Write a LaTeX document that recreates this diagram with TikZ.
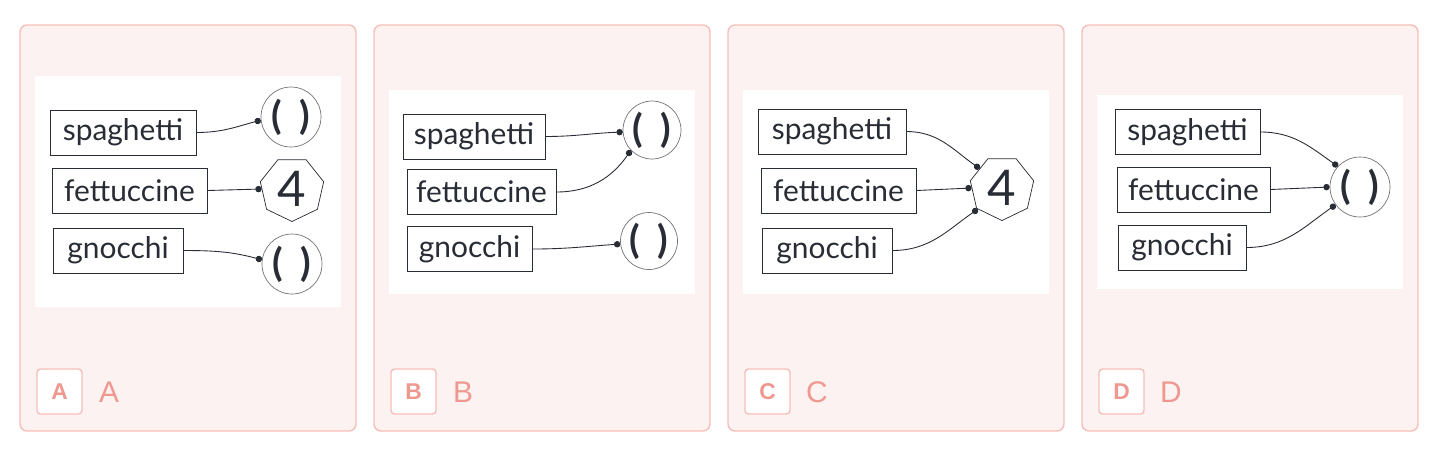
\documentclass[tikz,border=0pt]{standalone}
\usepackage{fontspec}
\setmainfont{Lato}
\newfontfamily\tagfont{Liberation Sans}
\usetikzlibrary{shapes.geometric,arrows.meta,positioning,calc}
\definecolor{panelfill}{RGB}{252,242,241}
\definecolor{panelline}{RGB}{246,190,185}
\definecolor{tagred}{RGB}{238,152,143}
\definecolor{ink}{RGB}{40,44,52}

\tikzset{
  panel/.style={draw=panelline, fill=panelfill, line width=0.8pt, rounded corners=4pt},
  sheet/.style={fill=white, draw=none},
  tagbox/.style={draw=panelline, fill=white, line width=0.8pt, rounded corners=2pt, minimum size=0.9cm, inner sep=0pt, text=tagred, font=\tagfont\bfseries\fontsize{13}{13}\selectfont},
  tagtext/.style={text=tagred, inner sep=0pt, font=\tagfont\fontsize{17}{17}\selectfont},
  pasta/.style={draw=ink, line width=0.5pt, minimum height=0.9cm, inner sep=0pt, text=ink, font=\fontsize{17}{17}\selectfont},
  bubble/.style={circle, draw=black!55, line width=0.4pt, inner sep=0pt, minimum size=1.2cm, text=ink, font=\bfseries\fontsize{22}{22}\selectfont},
  hepta/.style={regular polygon, regular polygon sides=7, shape border rotate=180, draw=ink, line width=0.4pt, inner sep=0pt, minimum size=1.3cm, text=ink, font=\fontsize{28}{28}\selectfont},
  wire/.style={draw=ink, line width=0.5pt, -{Circle[length=3.6pt]}},
}
\newcommand{\parens}{(\hspace{10pt})}

\begin{document}
\begin{tikzpicture}[x=0.02cm, y=-0.02cm]
    \useasboundingbox (0,0) rectangle (1448,458);

    % Panels, white sheets and tags
    \foreach \dx/\tag/\ta/\tb in {0/A/76/307, 354/B/90/294, 708/C/90/294, 1062/D/95/289} {
        \draw[panel] ({\dx+20},25) rectangle ({\dx+356},431);
        \fill[sheet] ({\dx+35},\ta) rectangle ({\dx+341},\tb);
        \node[tagbox] (tag\tag) at ({\dx+59.5},391.5) {\tag};
        \node[tagtext] (name\tag) at ({\dx+109},392) {\tag};
    }

    % Panel A
    \node[pasta, minimum width=2.92cm] (spA) at (123,132.5) {spaghetti};
    \node[pasta, minimum width=3.1cm] (feA) at (129.5,190.5) {fettuccine};
    \node[pasta, minimum width=2.6cm] (gnA) at (118,250.5) {gnocchi};
    \node[bubble] (oneA) at (291,117) {\parens};
    \node[hepta] (fourA) at (292,189) {4};
    \node[bubble] (twoA) at (292,264) {\parens};
    \draw[wire] (spA.east) to[out=0, in=195] (oneA.186);
    \draw[wire] (feA.east) -- (fourA.180);
    \draw[wire] (gnA.east) to[out=0, in=165] (twoA.172);

    % Panel B
    \node[pasta, minimum width=2.84cm] (spB) at (474,136.5) {spaghetti};
    \node[pasta, minimum width=2.98cm] (feB) at (481.5,192) {fettuccine};
    \node[pasta, minimum width=2.5cm] (gnB) at (469.5,249) {gnocchi};
    \node[bubble, minimum size=1.16cm] (oneB) at (652,130) {\parens};
    \node[bubble, minimum size=1.14cm] (twoB) at (649,241) {\parens};
    \draw[wire] (spB.east) to[out=0, in=182] (oneB.184);
    \draw[wire] (feB.east) to[out=0, in=235] (oneB.224);
    \draw[wire] (gnB.east) to[out=0, in=184] (twoB.186);

    % Panel C
    \node[pasta, minimum width=2.96cm] (spC) at (832,131.5) {spaghetti};
    \node[pasta, minimum width=3.1cm] (feC) at (838.5,190.5) {fettuccine};
    \node[pasta, minimum width=2.6cm] (gnC) at (827,250.5) {gnocchi};
    \node[hepta] (fourC) at (1002,188) {4};
    \draw[wire] (spC.east) to[out=0, in=145] (fourC.139);
    \draw[wire] (feC.east) -- (fourC.180);
    \draw[wire] (gnC.east) to[out=0, in=215] (fourC.221);

    % Panel D
    \node[pasta, minimum width=2.9cm] (spD) at (1187.5,132) {spaghetti};
    \node[pasta, minimum width=3.06cm] (feD) at (1193.5,189.5) {fettuccine};
    \node[pasta, minimum width=2.56cm] (gnD) at (1182,247.5) {gnocchi};
    \node[bubble] (oneD) at (1360,187) {\parens};
    \draw[wire] (spD.east) to[out=0, in=145] (oneD.137);
    \draw[wire] (feD.east) -- (oneD.180);
    \draw[wire] (gnD.east) to[out=0, in=215] (oneD.216);
\end{tikzpicture}
\end{document}
